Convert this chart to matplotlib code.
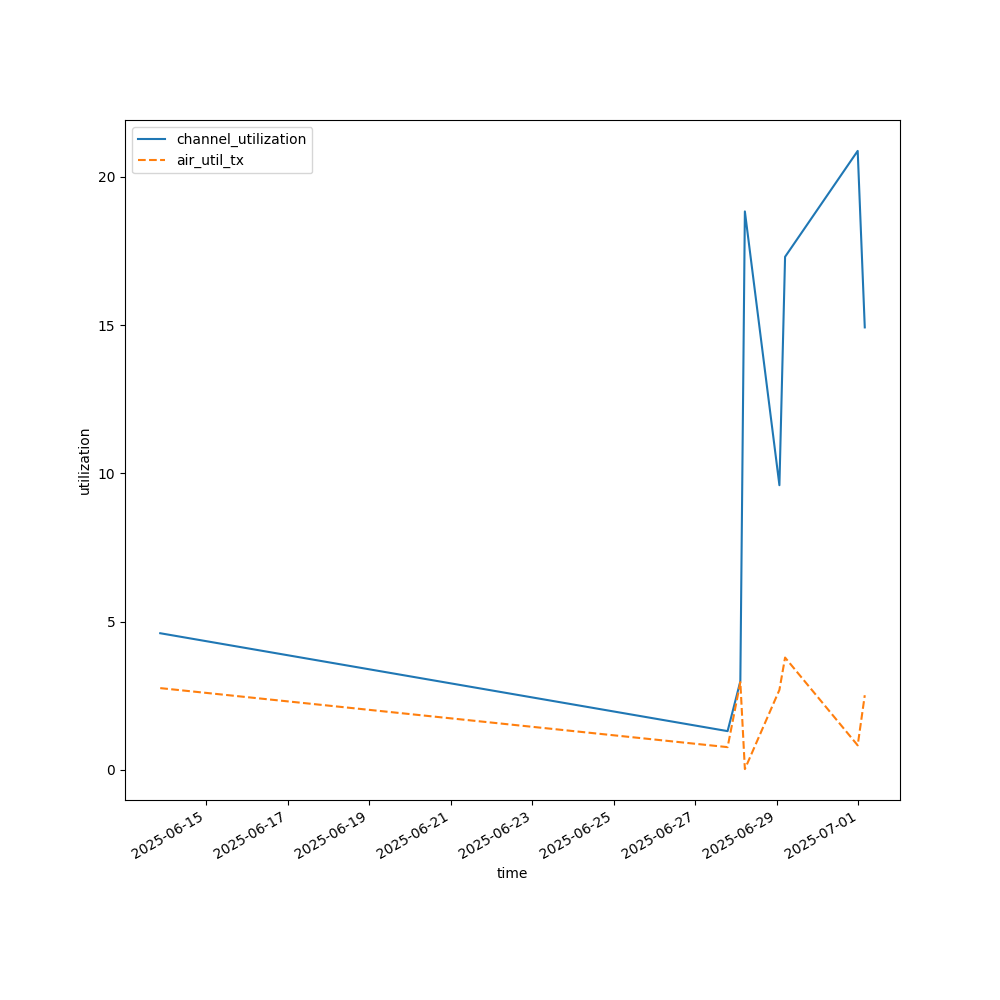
import numpy as np
import pandas as pd
import matplotlib
matplotlib.use("Agg")
import matplotlib.pyplot as plt

# Значения
times = pd.to_datetime([
    "2025-06-13 21:00", "2025-06-27 19:00", "2025-06-28 02:30", "2025-06-28 05:10",
    "2025-06-29 01:30", "2025-06-29 04:50", "2025-06-30 23:35", "2025-07-01 03:45",
])
channel_utilization = [4.61, 1.31, 2.99, 18.83, 9.60, 17.30, 20.87, 14.92]
air_util_tx = [2.76, 0.77, 2.96, 0.03, 2.70, 3.79, 0.83, 2.52]

fig, ax = plt.subplots(figsize=(10, 10), dpi=100)
ax.plot(times, channel_utilization, linestyle='-', label='channel_utilization')
ax.plot(times, air_util_tx, linestyle='--', label='air_util_tx')
ax.set_xlabel('time')
ax.set_ylabel('utilization')
ax.legend(loc='upper left')
fig.autofmt_xdate()
fig.savefig('out.png')
